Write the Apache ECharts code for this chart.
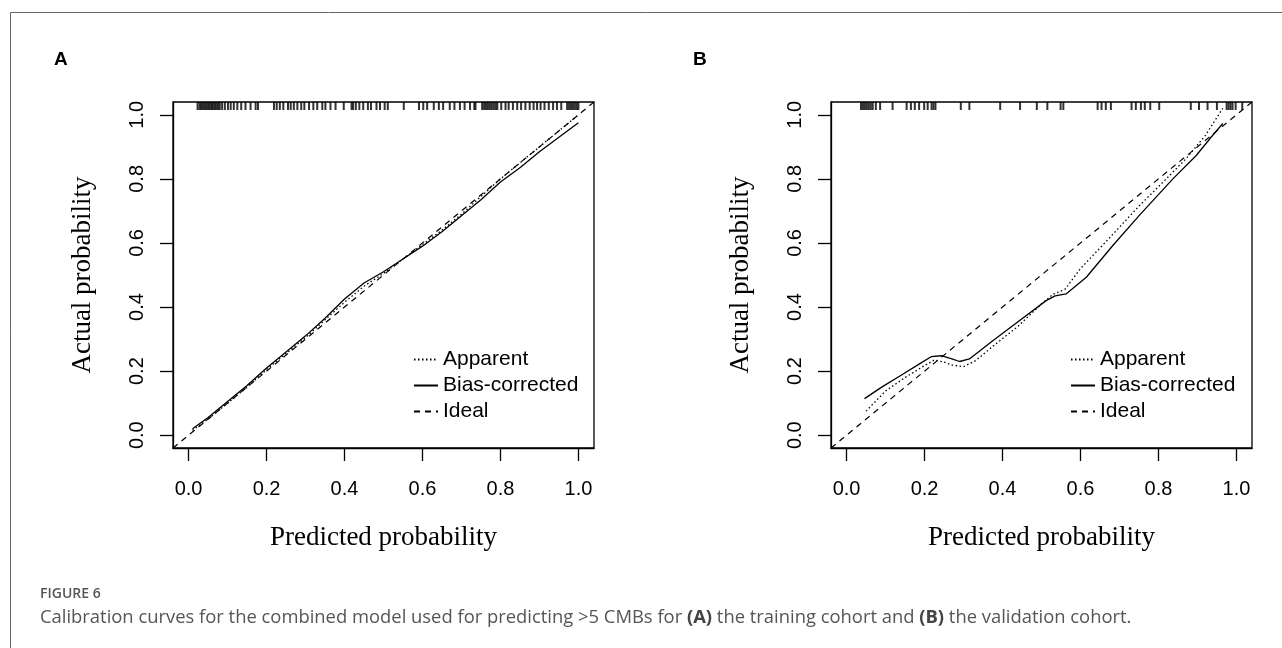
<!DOCTYPE html>
<html>
<head>
<meta charset="utf-8">
<script src="https://cdn.jsdelivr.net/npm/echarts@6/dist/echarts.min.js"></script>
<style>
  html, body { margin: 0; padding: 0; background: #fff; }
  #chart { width: 1282px; height: 648px; }
</style>
</head>
<body>
<div id="chart"></div>
<script>
  // tick values shared by both panels
  const ticks = [0, 0.2, 0.4, 0.6, 0.8, 1.0]

  // panel A - training cohort
  const apparentAx = [0.01, 0.05, 0.1, 0.15, 0.2, 0.25, 0.3, 0.35, 0.4, 0.45, 0.5, 0.55, 0.6, 0.65, 0.7, 0.75, 0.8, 0.85, 0.9, 0.95, 1.0]
  const apparentAy = [0.015, 0.05, 0.1, 0.15, 0.205, 0.255, 0.305, 0.36, 0.415, 0.465, 0.505, 0.55, 0.595, 0.64, 0.69, 0.745, 0.8, 0.85, 0.9, 0.95, 1.0]
  const biasAx = [0.01, 0.05, 0.1, 0.15, 0.2, 0.25, 0.3, 0.35, 0.4, 0.45, 0.5, 0.55, 0.6, 0.65, 0.7, 0.75, 0.8, 0.85, 0.9, 0.95, 1.0]
  const biasAy = [0.02, 0.055, 0.105, 0.155, 0.21, 0.26, 0.31, 0.365, 0.425, 0.475, 0.51, 0.55, 0.59, 0.635, 0.685, 0.735, 0.79, 0.835, 0.885, 0.93, 0.975]
  const rugA = [
    0.023, 0.028, 0.032, 0.036, 0.040, 0.044, 0.048, 0.052, 0.056, 0.060, 0.064, 0.068, 0.072, 0.076, 0.080,
    0.086, 0.093, 0.101, 0.108, 0.116, 0.125, 0.135, 0.146, 0.159, 0.172, 0.178,
    0.219, 0.226, 0.234, 0.243, 0.255, 0.262, 0.270, 0.279, 0.289, 0.297, 0.309, 0.320, 0.330, 0.343, 0.351,
    0.364, 0.377, 0.398, 0.418, 0.422, 0.429, 0.438, 0.448, 0.460, 0.468, 0.482, 0.491, 0.503, 0.511,
    0.552,
    0.591, 0.602, 0.612, 0.629, 0.642, 0.653, 0.670, 0.682, 0.696, 0.708, 0.722, 0.733, 0.736,
    0.753, 0.758, 0.763, 0.768, 0.773, 0.778, 0.783, 0.788, 0.792,
    0.802, 0.813, 0.821, 0.832, 0.843, 0.853, 0.864, 0.875, 0.885, 0.894, 0.903, 0.913, 0.924, 0.935, 0.945, 0.956,
    0.971, 0.976, 0.981, 0.986, 0.991, 0.996, 1.0
  ]

  // panel B - validation cohort
  const apparentBx = [0.05, 0.1, 0.15, 0.19, 0.225, 0.25, 0.27, 0.3, 0.33, 0.38, 0.44, 0.5, 0.53, 0.56, 0.6, 0.67, 0.75, 0.82, 0.87, 0.92, 0.965]
  const apparentBy = [0.075, 0.138, 0.18, 0.21, 0.235, 0.228, 0.219, 0.214, 0.232, 0.282, 0.34, 0.41, 0.44, 0.455, 0.52, 0.61, 0.715, 0.8, 0.862, 0.935, 1.02]
  const biasBx = [0.046, 0.09, 0.144, 0.19, 0.217, 0.243, 0.27, 0.29, 0.315, 0.375, 0.444, 0.512, 0.535, 0.563, 0.615, 0.683, 0.751, 0.837, 0.897, 0.935, 0.965]
  const biasBy = [0.114, 0.15, 0.19, 0.225, 0.245, 0.248, 0.238, 0.23, 0.238, 0.295, 0.358, 0.42, 0.435, 0.441, 0.493, 0.592, 0.686, 0.8, 0.873, 0.93, 0.973]
  const rugB = [
    0.037, 0.042, 0.047, 0.052, 0.057, 0.062, 0.067, 0.075, 0.086,
    0.118,
    0.154, 0.165, 0.175, 0.186, 0.199, 0.208, 0.218, 0.223, 0.228,
    0.293, 0.315, 0.394, 0.445, 0.488, 0.515, 0.549, 0.556,
    0.644, 0.654, 0.665, 0.678,
    0.731, 0.742, 0.755, 0.765, 0.779, 0.802,
    0.883, 0.904, 0.926, 0.950, 0.975, 0.980, 0.985, 0.990, 0.998, 1.015
  ]

  // ideal line spans the whole plotting box
  const idealX = [-0.04, 1.04]
  const idealY = [-0.04, 1.04]

  const zip = (xs, ys) => xs.map((x, i) => [x, ys[i]])

  const tickFont = 'Liberation Sans, Arial, sans-serif'
  const titleFont = 'Liberation Serif, Times New Roman, serif'

  function xAxisFor(idx) {
    return {
      type: 'value',
      gridIndex: idx,
      min: -0.04,
      max: 1.04,
      name: 'Predicted probability',
      nameLocation: 'middle',
      nameGap: 76,
      nameTextStyle: { fontFamily: titleFont, fontSize: 27, color: '#000' },
      axisLine: { show: true, onZero: false, lineStyle: { color: '#000', width: 1.3 } },
      axisTick: { show: true, length: 13, customValues: ticks, lineStyle: { color: '#000', width: 1.3 } },
      axisLabel: {
        customValues: ticks, margin: 31, fontSize: 20, fontFamily: tickFont, color: '#000',
        formatter: v => v.toFixed(1)
      },
      splitLine: { show: false }
    }
  }

  function yAxisFor(idx) {
    return {
      type: 'value',
      gridIndex: idx,
      min: -0.04,
      max: 1.04,
      name: 'Actual probability',
      nameLocation: 'middle',
      nameGap: 77,
      nameTextStyle: { fontFamily: titleFont, fontSize: 27, color: '#000' },
      axisLine: { show: true, onZero: false, lineStyle: { color: '#000', width: 1.3 } },
      axisTick: { show: true, length: 13, customValues: ticks, lineStyle: { color: '#000', width: 1.3 } },
      axisLabel: {
        customValues: ticks, margin: 26, rotate: 90, fontSize: 20, fontFamily: tickFont, color: '#000',
        formatter: v => v.toFixed(1)
      },
      splitLine: { show: false }
    }
  }

  function seriesFor(idx, app, bias, rug) {
    return [
      {
        name: 'Apparent', type: 'line', xAxisIndex: idx, yAxisIndex: idx,
        data: app, symbol: 'none', smooth: false, silent: true,
        itemStyle: { color: '#000' },
        lineStyle: { color: '#000', width: 1.3, type: [1.5, 2.5] }
      },
      {
        name: 'Bias-corrected', type: 'line', xAxisIndex: idx, yAxisIndex: idx,
        data: bias, symbol: 'none', smooth: false, silent: true,
        itemStyle: { color: '#000' },
        lineStyle: { color: '#000', width: 1.3, type: 'solid' }
      },
      {
        name: 'Ideal', type: 'line', xAxisIndex: idx, yAxisIndex: idx,
        data: zip(idealX, idealY), symbol: 'none', silent: true,
        itemStyle: { color: '#000' },
        lineStyle: { color: '#000', width: 1.2, type: [6, 5] }
      },
      {
        name: 'rug', type: 'scatter', xAxisIndex: idx, yAxisIndex: idx,
        data: rug.map(v => [v, 1.04]), symbol: 'rect', symbolSize: [2, 8],
        symbolOffset: [0, 4], clip: false, silent: true,
        itemStyle: { color: '#000' }
      }
    ]
  }

  function legendAt(left) {
    return {
      left: left, top: 344, orient: 'vertical',
      itemWidth: 24, itemHeight: 14, itemGap: 5,
      selectedMode: false,
      data: ['Apparent', 'Bias-corrected', 'Ideal'],
      itemStyle: { opacity: 0 },
      textStyle: { fontSize: 21, fontFamily: tickFont, color: '#000' }
    }
  }

  const chart = echarts.init(document.getElementById('chart'), null, { renderer: 'canvas' })

  chart.setOption({
    backgroundColor: '#fff',
    animation: false,
    grid: [
      { left: 173, top: 102, width: 421, height: 346, show: true, borderColor: '#000', borderWidth: 1.3 },
      { left: 831, top: 102, width: 421, height: 346, show: true, borderColor: '#000', borderWidth: 1.3 }
    ],
    xAxis: [xAxisFor(0), xAxisFor(1)],
    yAxis: [yAxisFor(0), yAxisFor(1)],
    legend: [legendAt(408), legendAt(1065)],
    series: [
      ...seriesFor(0, zip(apparentAx, apparentAy), zip(biasAx, biasAy), rugA),
      ...seriesFor(1, zip(apparentBx, apparentBy), zip(biasBx, biasBy), rugB)
    ],
    graphic: [
      // figure frame (left and top edges)
      { type: 'line', shape: { x1: 10.5, y1: 12.5, x2: 10.5, y2: 648 }, style: { stroke: '#666', lineWidth: 1 } },
      { type: 'line', shape: { x1: 10.5, y1: 12.5, x2: 1282, y2: 12.5 }, style: { stroke: '#666', lineWidth: 1 } },
      { type: 'text', left: 54, top: 50, style: { text: 'A', font: 'bold 19px Liberation Sans, Arial, sans-serif', fill: '#000' } },
      { type: 'text', left: 693, top: 50, style: { text: 'B', font: 'bold 19px Liberation Sans, Arial, sans-serif', fill: '#000' } },
      { type: 'text', left: 40, top: 587, style: { text: 'FIGURE 6', font: '600 14px Open Sans, sans-serif', fill: '#555' } },
      {
        type: 'text', left: 40, top: 609,
        style: {
          text: '{n|Calibration curves for the combined model used for predicting >5 CMBs for }{b|(A)}{n| the training cohort and }{b|(B)}{n| the validation cohort.}',
          rich: {
            n: { fontFamily: 'Open Sans, sans-serif', fontSize: 18.4, fill: '#555', fontWeight: 'normal' },
            b: { fontFamily: 'Open Sans, sans-serif', fontSize: 18.4, fill: '#444', fontWeight: 'bold' }
          }
        }
      }
    ]
  })
</script>
</body>
</html>
